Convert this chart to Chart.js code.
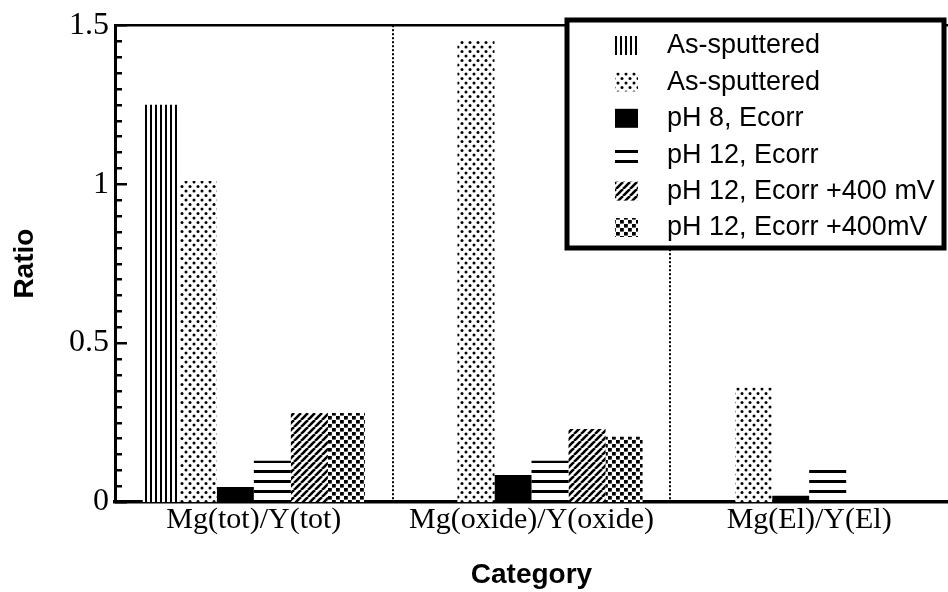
<!DOCTYPE html>
<html><head><meta charset="utf-8">
<script src="https://cdn.jsdelivr.net/npm/chart.js@4/dist/chart.umd.min.js"></script>
<style>html,body{margin:0;padding:0;background:#fff;} #wrap{width:948px;height:592px;position:relative;}</style>
</head><body><div id="wrap"><canvas id="c" width="948" height="592"></canvas></div>
<script>
// ---- data ----
const categories = ['Mg(tot)/Y(tot)', 'Mg(oxide)/Y(oxide)', 'Mg(El)/Y(El)'];
const seriesLabels = ['As-sputtered', 'As-sputtered', 'pH 8, Ecorr', 'pH 12, Ecorr', 'pH 12, Ecorr +400 mV', 'pH 12, Ecorr +400mV'];
const asSputteredStripes = [1.25, null, null];
const asSputteredDots    = [1.01, 1.45, 0.36];
const pH8Ecorr           = [0.047, 0.085, 0.02];
const pH12Ecorr          = [0.13, 0.13, 0.105];
const pH12Ecorr400a      = [0.28, 0.23, null];
const pH12Ecorr400b      = [0.28, 0.205, null];
const yTickLabels = ['0', '0.5', '1', '1.5'];
const yMajorStep = 0.5, yMinorStep = 0.05;

const canvas = document.getElementById('c');
const ctx = canvas.getContext('2d');

function makePattern(kind) {
  const t = document.createElement('canvas');
  const g = t.getContext('2d');
  const size = {vert:[5,4], dots:[8,9], horiz:[4,10], diag:[7,7], check:[8,8]}[kind];
  t.width = size[0]; t.height = size[1];
  g.fillStyle = '#fff'; g.fillRect(0, 0, t.width, t.height);
  g.fillStyle = '#000'; g.strokeStyle = '#000';
  if (kind === 'vert') { g.fillRect(0, 0, 2, 4); }
  if (kind === 'horiz') { g.fillRect(0, 0, 4, 3); }
  if (kind === 'dots') {
    g.beginPath(); g.arc(2, 2, 1.5, 0, Math.PI * 2); g.fill();
    g.beginPath(); g.arc(6, 6.5, 1.5, 0, Math.PI * 2); g.fill();
  }
  if (kind === 'diag') {
    g.lineWidth = 2.6;
    [-7, 0, 7].forEach(k => { g.beginPath(); g.moveTo(k, 7); g.lineTo(k + 7, 0); g.stroke(); });
  }
  if (kind === 'check') {
    g.fillRect(0, 0, 3.8, 3.6);
    g.fillRect(4, 4, 3.8, 3.6);
  }
  return ctx.createPattern(t, 'repeat');
}

const fills = [makePattern('vert'), makePattern('dots'), '#000', makePattern('horiz'), makePattern('diag'), makePattern('check')];
const seriesData = [asSputteredStripes, asSputteredDots, pH8Ecorr, pH12Ecorr, pH12Ecorr400a, pH12Ecorr400b];

function isMajor(v) { return Math.abs(v / yMajorStep - Math.round(v / yMajorStep)) < 1e-6; }

const decorPlugin = {
  id: 'decor',
  afterDraw(chart) {
    const c = chart.ctx, ca = chart.chartArea, ys = chart.scales.y;
    c.save();
    c.strokeStyle = '#000';
    c.fillStyle = '#000';
    // top frame line
    c.lineWidth = 2.5;
    c.beginPath(); c.moveTo(ca.left, ca.top); c.lineTo(ca.right, ca.top); c.stroke();
    // inward y ticks (positions from the scale's own ticks)
    (ys.ticks || []).forEach(t => {
      const y = ys.getPixelForValue(t.value);
      c.fillRect(ca.left, Math.round(y) - 1, isMajor(t.value) ? 12 : 7, 2.5);
    });
    // legend box
    const L = 567, T = 20, R = 944, B = 248;
    c.fillStyle = '#fff'; c.fillRect(L, T, R - L, B - T);
    c.lineWidth = 5; c.strokeRect(L, T, R - L, B - T);
    c.font = '27px "Liberation Sans", Arial, sans-serif';
    c.textBaseline = 'middle'; c.textAlign = 'left';
    chart.data.datasets.forEach((ds, i) => {
      const cy = 45 + i * 36.4;
      c.fillStyle = ds.backgroundColor;
      c.fillRect(615, cy - 9, 23, 19);
      c.fillStyle = '#000';
      c.fillText(ds.label, 667, cy + 1);
    });
    c.restore();
  }
};

new Chart(canvas, {
  type: 'bar',
  data: {
    labels: categories,
    datasets: seriesData.map((d, i) => ({
      label: seriesLabels[i],
      data: d,
      backgroundColor: fills[i],
      borderWidth: 0,
      categoryPercentage: 0.8,
      barPercentage: 1.0
    }))
  },
  options: {
    responsive: false,
    animation: false,
    layout: { padding: { top: 25, right: 0, bottom: 0, left: 0 } },
    plugins: { legend: { display: false }, tooltip: { enabled: false } },
    scales: {
      x: {
        grid: {
          display: true, offset: true, drawOnChartArea: true, drawTicks: false, lineWidth: 2,
          color: (g) => (g.index === undefined || g.index >= categories.length ? 'rgba(0,0,0,0)' : '#000')
        },
        border: { display: true, width: 3.5, color: '#000', dash: [2, 2] },
        ticks: { color: '#000', font: { family: '"Liberation Serif", "Times New Roman", serif', size: 30 }, padding: 0, maxRotation: 0 },
        title: { display: true, text: 'Category', color: '#000', font: { family: '"Liberation Sans", Arial, sans-serif', size: 28, weight: 'bold' }, padding: { top: -3, bottom: 0 } },
        afterFit(scale) { scale.height = 90; }
      },
      y: {
        min: 0, max: 1.5,
        grid: { display: false, drawTicks: false },
        border: { display: true, width: 3, color: '#000' },
        ticks: {
          stepSize: yMinorStep, maxTicksLimit: 100, autoSkip: false, color: '#000', padding: 6,
          font: { family: '"Liberation Serif", "Times New Roman", serif', size: 32 },
          callback: (v) => isMajor(v) ? yTickLabels[Math.round(v / yMajorStep)] : ''
        },
        title: { display: true, text: 'Ratio', color: '#000', font: { family: '"Liberation Sans", Arial, sans-serif', size: 28, weight: 'bold' }, padding: { top: 8, bottom: 0 } },
        afterFit(scale) { scale.width = 115; }
      }
    }
  },
  plugins: [decorPlugin]
});
</script>
</body></html>
